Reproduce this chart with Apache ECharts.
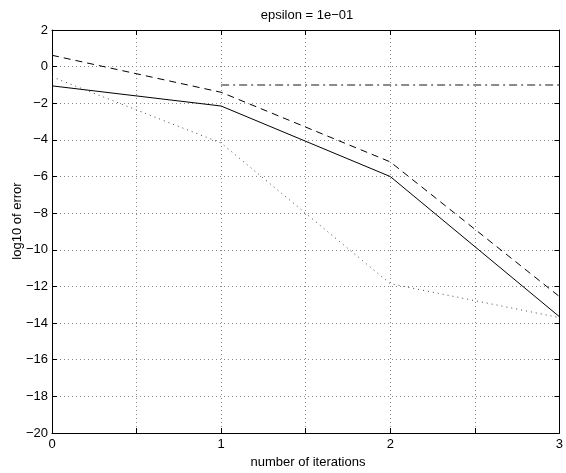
<!DOCTYPE html>
<html><head><meta charset="utf-8">
<script src="https://cdn.jsdelivr.net/npm/echarts@6/dist/echarts.min.js"></script>
<style>html,body{margin:0;padding:0;background:#fff}#c{width:566px;height:473px}</style>
</head><body><div id="c"></div>
<script>
var xValues = [0, 1, 2, 3];
var solidErr = [-1.05, -2.15, -6.0, -13.65];
var dashedErr = [0.62, -1.4, -5.2, -12.55];
var dashDotErr = [null, -1.0, -1.0, -1.0];
var dottedErr = [-0.56, -4.17, -11.85, -13.7];
var titleText = 'epsilon = 1e\u221201';
var xLabel = 'number of iterations';
var yLabel = 'log10 of error';

function pairs(arr){ return xValues.map(function(x,i){ return [x, arr[i]]; }); }
var font = 'Liberation Sans, Arial, Helvetica, sans-serif';
var chart = echarts.init(document.getElementById('c'), null, {renderer:'canvas'});
var gridLine = {show:true, lineStyle:{color:'#888', type:[1,3], width:1}};
chart.setOption({
  animation:false,
  grid:{left:52, right:1, top:30, bottom:40},
  graphic:[
    {type:'text', x:307, y:15,
      style:{text:titleText, fontFamily:font, fontSize:13, fill:'#000', align:'center', verticalAlign:'middle'}},
    {type:'text', x:308, y:462,
      style:{text:xLabel, fontFamily:font, fontSize:13, fill:'#000', align:'center', verticalAlign:'middle'}},
    {type:'text', x:17, y:221, rotation:Math.PI/2,
      style:{text:yLabel, fontFamily:font, fontSize:13, fill:'#000', align:'center', verticalAlign:'middle'}}
  ],
  xAxis:[{
    type:'value', min:0, max:3, interval:0.5,
    axisLine:{onZero:false, lineStyle:{color:'#000', width:1}},
    axisTick:{inside:true, length:5, lineStyle:{color:'#000'}},
    axisLabel:{fontFamily:font, fontSize:13, color:'#000', margin:5,
      formatter:function(v){ return Number.isInteger(v) ? String(v) : ''; }},
    splitLine:gridLine
  },{
    type:'value', min:0, max:3, interval:0.5, position:'top',
    axisLine:{show:true, onZero:false, lineStyle:{color:'#000', width:1}},
    axisTick:{inside:true, length:5, lineStyle:{color:'#000'}},
    axisLabel:{show:false}, splitLine:{show:false}
  }],
  yAxis:[{
    type:'value', min:-20, max:2, interval:2,
    axisLine:{show:true, onZero:false, lineStyle:{color:'#000', width:1}},
    axisTick:{show:true, inside:true, length:5, lineStyle:{color:'#000'}},
    axisLabel:{fontFamily:font, fontSize:13, color:'#000', margin:4,
      formatter:function(v){ return String(v).replace('-', '\u2212'); }},
    splitLine:gridLine
  },{
    type:'value', min:-20, max:2, interval:2, position:'right',
    axisLine:{show:true, onZero:false, lineStyle:{color:'#000', width:1}},
    axisTick:{show:true, inside:true, length:5, lineStyle:{color:'#000'}},
    axisLabel:{show:false}, splitLine:{show:false}
  }],
  series:[
    {type:'line', data:pairs(solidErr), showSymbol:false, lineStyle:{color:'#000', width:1, type:'solid'}},
    {type:'line', data:pairs(dashedErr), showSymbol:false, lineStyle:{color:'#000', width:1, type:[7,5]}},
    {type:'line', data:pairs(dashDotErr), showSymbol:false, connectNulls:false, lineStyle:{color:'#666', width:1.5, type:[8,4,2,4]}},
    {type:'line', data:pairs(dottedErr), showSymbol:false, lineStyle:{color:'#444', width:1, type:[1,4]}}
  ]
});
</script></body></html>
